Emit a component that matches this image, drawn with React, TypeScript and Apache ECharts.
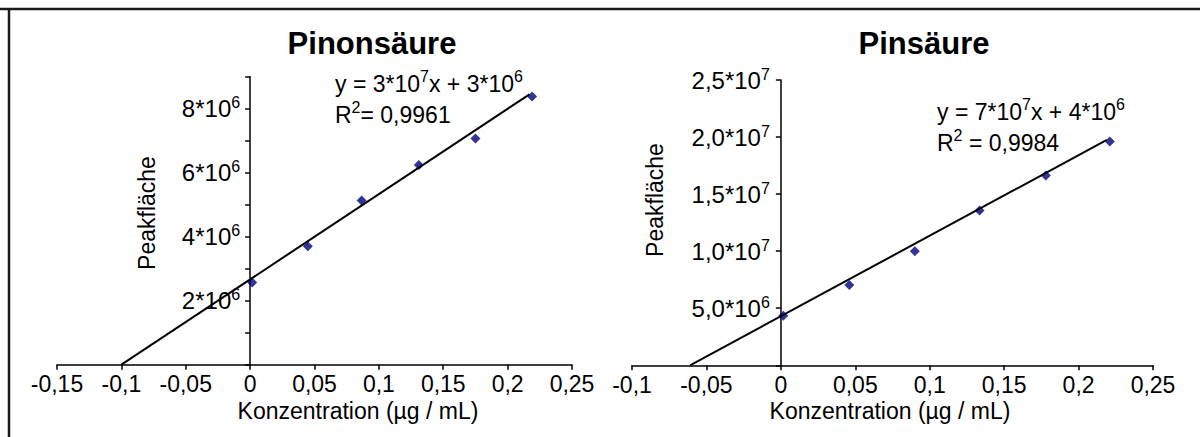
import React, { useEffect, useRef } from 'react';
import * as echarts from 'echarts';

// Pinonsäure
const pinonConc = [0.0016, 0.0448, 0.0866, 0.131, 0.175, 0.219];
const pinonArea = [2.57e6, 3.7e6, 5.13e6, 6.24e6, 7.07e6, 8.38e6];
const pinonTrendX = [-0.1, 0.217];
const pinonTrendY = [0, 8.45e6];

// Pinsäure
const pinConc = [0.0016, 0.046, 0.09, 0.1335, 0.178, 0.221];
const pinArea = [4.35e6, 7.04e6, 1.0e7, 1.356e7, 1.663e7, 1.96e7];
const pinTrendX = [-0.061, 0.219];
const pinTrendY = [0, 1.975e7];

const titles = ['Pinonsäure', 'Pinsäure'];
const xTitle = 'Konzentration (µg / mL)';
const yTitle = 'Peakfläche';

const FONT = '"Liberation Sans", Arial, Helvetica, sans-serif';

const fmtX = (v: number) => {
  const r = Number(v.toFixed(2));
  return (Object.is(r, -0) ? 0 : r).toString().replace('.', ',');
};

const labelRich = {
  b: { fontSize: 24, lineHeight: 28, fontFamily: FONT, color: '#000' },
  s: { fontSize: 16, lineHeight: 16, verticalAlign: 'top', fontFamily: FONT, color: '#000' },
};

const eqRich = {
  n: { fontSize: 23, lineHeight: 31, fontFamily: FONT, color: '#000' },
  s: { fontSize: 16, lineHeight: 19, verticalAlign: 'top', fontFamily: FONT, color: '#000' },
};

const pairs = (xs: number[], ys: number[]) => xs.map((x, i) => [x, ys[i]]);

// grid geometry (layout only)
const G0 = { left: 57, top: 76.7, width: 515, height: 288, xmin: -0.15, xmax: 0.25 };
const G1 = { left: 632, top: 80, width: 521, height: 285.3, xmin: -0.1, xmax: 0.25 };
const zeroOffset = (g: typeof G0) => -((0 - g.xmin) / (g.xmax - g.xmin)) * g.width;

export default function App() {
  const ref = useRef<HTMLDivElement>(null);
  useEffect(() => {
    document.body.style.margin = '0';
    const chart = echarts.init(ref.current!, null, { renderer: 'svg' });
    const axisLineStyle = { color: '#000', width: 1.5 };
    const xAxisCommon = {
      type: 'value',
      interval: 0.05,
      axisLine: { show: true, onZero: true, lineStyle: axisLineStyle },
      axisTick: { show: true, length: 5, lineStyle: axisLineStyle },
      axisLabel: { fontSize: 23, fontFamily: FONT, color: '#000', margin: 8, formatter: fmtX, showMinLabel: true, showMaxLabel: true },
      splitLine: { show: false },
    };
    const yAxisCommon = {
      type: 'value',
      min: 0,
      axisLine: { show: true, onZero: false, lineStyle: axisLineStyle },
      axisTick: { show: true, length: 5, lineStyle: axisLineStyle },
      splitLine: { show: false },
    };
    chart.setOption({
      animation: false,
      backgroundColor: '#fff',
      grid: [
        { left: G0.left, top: G0.top, width: G0.width, height: G0.height },
        { left: G1.left, top: G1.top, width: G1.width, height: G1.height },
      ],
      xAxis: [
        { ...xAxisCommon, gridIndex: 0, min: G0.xmin, max: G0.xmax },
        { ...xAxisCommon, gridIndex: 1, min: G1.xmin, max: G1.xmax },
      ],
      yAxis: [
        {
          ...yAxisCommon,
          gridIndex: 0,
          max: 9e6,
          interval: 1e6,
          offset: zeroOffset(G0),
          axisLabel: {
            margin: 10,
            formatter: (v: number) => (v > 0 && Math.round(v / 1e6) % 2 === 0 ? `{b|${Math.round(v / 1e6)}*10}{s|6}` : ''),
            rich: labelRich,
          },
        },
        {
          ...yAxisCommon,
          gridIndex: 1,
          max: 2.5e7,
          interval: 5e6,
          offset: zeroOffset(G1),
          axisLabel: {
            margin: 11,
            formatter: (v: number) => {
              if (v <= 0) return '';
              if (v >= 1e7) return `{b|${(v / 1e7).toFixed(1).replace('.', ',')}*10}{s|7}`;
              return `{b|${(v / 1e6).toFixed(1).replace('.', ',')}*10}{s|6}`;
            },
            rich: labelRich,
          },
        },
      ],
      series: [
        {
          type: 'line', xAxisIndex: 0, yAxisIndex: 0, data: pairs(pinonTrendX, pinonTrendY),
          showSymbol: false, symbol: 'none', lineStyle: { color: '#000', width: 2 }, silent: true,
        },
        {
          type: 'scatter', xAxisIndex: 0, yAxisIndex: 0, data: pairs(pinonConc, pinonArea),
          symbol: 'diamond', symbolSize: 10, itemStyle: { color: '#000080' },
        },
        {
          type: 'line', xAxisIndex: 1, yAxisIndex: 1, data: pairs(pinTrendX, pinTrendY),
          showSymbol: false, symbol: 'none', lineStyle: { color: '#000', width: 2 }, silent: true,
        },
        {
          type: 'scatter', xAxisIndex: 1, yAxisIndex: 1, data: pairs(pinConc, pinArea),
          symbol: 'diamond', symbolSize: 10, itemStyle: { color: '#000080' },
        },
      ],
      graphic: [
        { type: 'line', shape: { x1: 0, y1: 9, x2: 1200, y2: 9 }, style: { stroke: '#1a1a1a', lineWidth: 2.5 } },
        { type: 'line', shape: { x1: 9, y1: 8, x2: 9, y2: 437 }, style: { stroke: '#1a1a1a', lineWidth: 2.5 } },
        { type: 'text', x: 372, y: 43, style: { text: titles[0], font: `bold 31px ${FONT}`, fill: '#000', align: 'center', verticalAlign: 'middle' } },
        { type: 'text', x: 924, y: 43, style: { text: titles[1], font: `bold 31px ${FONT}`, fill: '#000', align: 'center', verticalAlign: 'middle' } },
        { type: 'text', x: 358, y: 411, style: { text: xTitle, font: `23px ${FONT}`, fill: '#000', align: 'center', verticalAlign: 'middle' } },
        { type: 'text', x: 890, y: 411, style: { text: xTitle, font: `23px ${FONT}`, fill: '#000', align: 'center', verticalAlign: 'middle' } },
        { type: 'text', x: 147, y: 213, rotation: Math.PI / 2, style: { text: yTitle, font: `23px ${FONT}`, fill: '#000', align: 'center', verticalAlign: 'middle' } },
        { type: 'text', x: 655, y: 200, rotation: Math.PI / 2, style: { text: yTitle, font: `23px ${FONT}`, fill: '#000', align: 'center', verticalAlign: 'middle' } },
        {
          type: 'text', x: 335, y: 68,
          style: { text: '{n|y = 3*10}{s|7}{n|x + 3*10}{s|6}\n{n|R}{s|2}{n|= 0,9961}', rich: eqRich },
        },
        {
          type: 'text', x: 937, y: 96,
          style: { text: '{n|y = 7*10}{s|7}{n|x + 4*10}{s|6}\n{n|R}{s|2}{n| = 0,9984}', rich: eqRich },
        },
      ],
    });
    return () => chart.dispose();
  }, []);
  return <div ref={ref} style={{ position: 'absolute', left: 0, top: 0, width: 1200, height: 437 }} />;
}
